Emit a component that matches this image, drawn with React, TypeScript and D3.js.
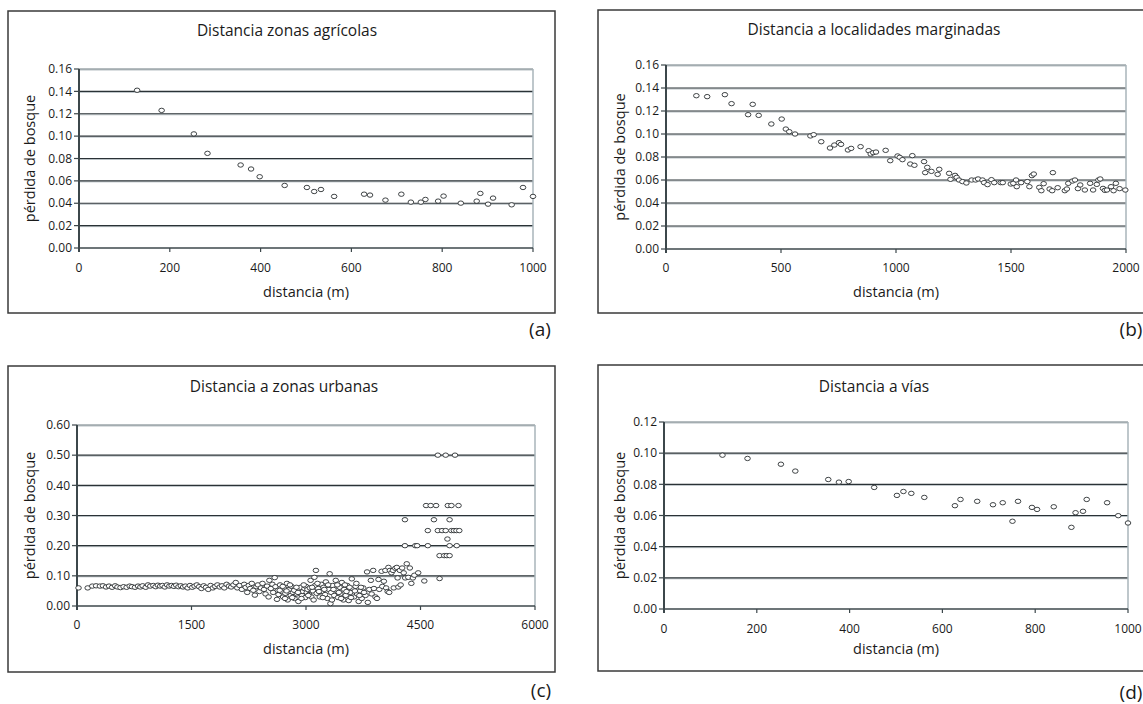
import * as d3 from 'd3';

// Panel (a): distancia a zonas agrícolas
const agricolasX = [128, 182, 253, 283, 356, 379, 398, 453, 502, 518, 533, 562, 628, 641, 675, 710, 731, 753, 763, 791, 803, 841, 876, 884, 901, 912, 953, 978, 1000];
const agricolasY = [0.141, 0.123, 0.102, 0.0846, 0.0742, 0.0706, 0.0637, 0.0559, 0.0541, 0.0505, 0.0523, 0.0461, 0.0481, 0.0473, 0.0428, 0.0481, 0.041, 0.041, 0.0434, 0.0419, 0.0464, 0.0401, 0.0419, 0.0488, 0.0392, 0.0446, 0.0386, 0.0541, 0.0461];

// Panel (b): distancia a localidades marginadas
const marginadas: [number, number][] = [
  [132, 0.1333], [179, 0.1325], [256, 0.1342], [285, 0.1264], [357, 0.1168], [377, 0.1258], [403, 0.1162],
  [458, 0.1087], [503, 0.113], [521, 0.1043], [536, 0.102], [561, 0.1], [628, 0.0983], [642, 0.0994],
  [675, 0.0933], [713, 0.0878], [732, 0.0904], [752, 0.0925], [761, 0.091], [791, 0.0861], [805, 0.0875],
  [846, 0.089], [881, 0.0855], [890, 0.0826], [901, 0.0838], [913, 0.0843], [955, 0.0858], [975, 0.0768],
  [1007, 0.0809], [1016, 0.0797], [1028, 0.0777], [1062, 0.0739], [1071, 0.0812], [1080, 0.0728],
  [1122, 0.076], [1127, 0.0664], [1136, 0.071], [1154, 0.0675], [1181, 0.0649], [1188, 0.0693],
  [1231, 0.0658], [1237, 0.0606], [1257, 0.064], [1264, 0.0623], [1274, 0.06], [1289, 0.0586],
  [1306, 0.0574], [1329, 0.06], [1346, 0.06], [1357, 0.0609], [1376, 0.06], [1383, 0.0577], [1398, 0.056],
  [1415, 0.0603], [1427, 0.0577], [1455, 0.0577], [1464, 0.0577], [1499, 0.0565], [1510, 0.0571],
  [1522, 0.06], [1525, 0.0542], [1544, 0.0577], [1571, 0.0586], [1580, 0.0542], [1591, 0.0638],
  [1599, 0.0652], [1623, 0.0536], [1632, 0.0507], [1642, 0.0568], [1668, 0.0522], [1679, 0.0507],
  [1682, 0.0664], [1703, 0.0533], [1734, 0.0507], [1743, 0.0522], [1749, 0.0571], [1767, 0.0591],
  [1778, 0.06], [1791, 0.0525], [1801, 0.0557], [1821, 0.0513], [1844, 0.0571], [1857, 0.0513],
  [1873, 0.0562], [1880, 0.06], [1888, 0.0609], [1900, 0.0527], [1908, 0.051], [1917, 0.0513],
  [1935, 0.0542], [1946, 0.0507], [1956, 0.0571], [1972, 0.0525], [1997, 0.0513],
];

// Panel (c): distancia a zonas urbanas
const urbanas: [number, number][] = [
  [20, 0.06], [140, 0.06], [200, 0.066], [250, 0.067], [300, 0.066], [340, 0.067], [380, 0.063], [420, 0.066],
  [460, 0.062], [500, 0.067], [530, 0.063], [570, 0.061], [610, 0.064], [650, 0.062], [690, 0.066], [720, 0.064],
  [760, 0.062], [800, 0.066], [830, 0.063], [860, 0.067], [900, 0.062], [930, 0.07], [960, 0.066], [1000, 0.068],
  [1030, 0.064], [1060, 0.069], [1090, 0.066], [1120, 0.068], [1150, 0.063], [1180, 0.07], [1210, 0.066],
  [1240, 0.068], [1270, 0.065], [1300, 0.069], [1330, 0.064], [1360, 0.067], [1390, 0.063], [1420, 0.066],
  [1450, 0.06], [1480, 0.068], [1510, 0.062], [1540, 0.066], [1570, 0.07], [1600, 0.064], [1630, 0.058],
  [1660, 0.067], [1690, 0.062], [1720, 0.055], [1750, 0.068], [1780, 0.06], [1810, 0.065], [1840, 0.07],
  [1870, 0.063], [1900, 0.067], [1930, 0.06], [1960, 0.072], [1990, 0.066],
  [2020, 0.063], [2050, 0.07], [2080, 0.078], [2100, 0.06], [2130, 0.068], [2160, 0.055], [2190, 0.072],
  [2210, 0.062], [2230, 0.045], [2250, 0.068], [2270, 0.058], [2290, 0.075], [2310, 0.052], [2330, 0.036],
  [2350, 0.064], [2370, 0.07], [2390, 0.048], [2410, 0.06], [2430, 0.075], [2450, 0.055], [2470, 0.04],
  [2490, 0.066], [2510, 0.03], [2520, 0.085], [2540, 0.058], [2560, 0.072], [2570, 0.045], [2590, 0.094],
  [2600, 0.064], [2620, 0.022], [2630, 0.052],
  [2640, 0.038], [2660, 0.07], [2680, 0.048], [2700, 0.03], [2710, 0.06], [2730, 0.042], [2750, 0.075],
  [2760, 0.02], [2780, 0.055], [2800, 0.035], [2810, 0.065], [2830, 0.045], [2850, 0.025], [2860, 0.058],
  [2880, 0.04], [2900, 0.015], [2910, 0.052], [2930, 0.062], [2950, 0.035], [2960, 0.048], [2980, 0.058],
  [2990, 0.028], [3000, 0.065], [3010, 0.045], [3020, 0.055], [3040, 0.038], [3050, 0.06], [3060, 0.085],
  [3070, 0.03], [3090, 0.05], [3100, 0.02], [3110, 0.095], [3120, 0.068], [3130, 0.118], [3140, 0.042],
  [3160, 0.058], [3180, 0.03], [3200, 0.072], [3210, 0.048], [3230, 0.062], [3250, 0.038], [3260, 0.08],
  [3280, 0.025], [3300, 0.055], [3310, 0.107], [3320, 0.008], [3330, 0.045], [3350, 0.068], [3370, 0.035],
  [3390, 0.085], [3400, 0.052], [3420, 0.028], [3440, 0.062], [3450, 0.04], [3470, 0.078], [3490, 0.02],
  [3500, 0.055], [3520, 0.035], [3540, 0.068], [3560, 0.018], [3580, 0.045], [3600, 0.09], [3610, 0.058],
  [3630, 0.03], [3650, 0.065], [3670, 0.04], [3690, 0.015], [3710, 0.05], [3730, 0.025], [3750, 0.06],
  [3780, 0.035], [3800, 0.113], [3810, 0.012], [3830, 0.055], [3850, 0.085], [3860, 0.04], [3880, 0.118],
  [3890, 0.058], [3910, 0.03], [3930, 0.025], [3950, 0.088], [3960, 0.055], [3990, 0.115], [4000, 0.065],
  [4020, 0.082], [4040, 0.118], [4050, 0.06], [4070, 0.048], [4080, 0.128], [4090, 0.045], [4100, 0.118],
  [4120, 0.11], [4140, 0.118], [4150, 0.06], [4170, 0.125], [4190, 0.128], [4200, 0.093], [4210, 0.063],
  [4230, 0.118], [4240, 0.07], [4260, 0.126], [4280, 0.11], [4300, 0.093], [4320, 0.14], [4340, 0.095],
  [4360, 0.126], [4380, 0.075], [4400, 0.093], [4420, 0.102], [4470, 0.11], [4550, 0.083], [4750, 0.091],
  [2655, 0.052], [2695, 0.065], [2725, 0.025], [2745, 0.05], [2790, 0.07], [2820, 0.028], [2845, 0.052],
  [2875, 0.062], [2895, 0.045], [2940, 0.025], [2970, 0.07], [3030, 0.035], [3080, 0.062], [3150, 0.075],
  [3170, 0.048], [3220, 0.028], [3240, 0.055], [3290, 0.07], [3340, 0.02], [3360, 0.055], [3410, 0.07],
  [3430, 0.045], [3460, 0.025], [3510, 0.07], [3530, 0.048], [3570, 0.062], [3590, 0.028], [3640, 0.05],
  [3660, 0.075], [3700, 0.035], [3720, 0.062], [3760, 0.045],
  [4296, 0.286], [4676, 0.286], [4881, 0.286],
  [4573, 0.333], [4634, 0.333], [4704, 0.333], [4858, 0.333], [4905, 0.333], [4998, 0.333],
  [4727, 0.5], [4830, 0.5], [4952, 0.5],
  [4596, 0.25], [4727, 0.25], [4783, 0.25], [4830, 0.25], [4905, 0.25], [4938, 0.25], [4971, 0.25], [5008, 0.25],
  [4853, 0.222],
  [4296, 0.2], [4432, 0.2], [4456, 0.2], [4596, 0.2], [4881, 0.2], [4975, 0.2],
  [4750, 0.167], [4811, 0.167], [4844, 0.167], [4881, 0.167],
];

// Panel (d): distancia a vías
const viasX = [126, 180, 252, 283, 354, 377, 398, 453, 502, 516, 533, 561, 627, 639, 675, 709, 730, 751, 763, 793, 804, 840, 878, 887, 903, 911, 955, 979, 1000];
const viasY = [0.0987, 0.0966, 0.0929, 0.0885, 0.0831, 0.0814, 0.0818, 0.078, 0.0729, 0.0754, 0.0742, 0.0716, 0.0663, 0.0703, 0.0691, 0.0669, 0.0682, 0.0563, 0.0691, 0.0652, 0.0639, 0.0656, 0.0524, 0.0618, 0.0627, 0.0703, 0.0682, 0.0599, 0.0552];

const ticks1000 = [0, 200, 400, 600, 800, 1000];
const ticks2000 = [0, 500, 1000, 1500, 2000];
const ticks6000 = [0, 1500, 3000, 4500, 6000];
const ticks016 = [0, 0.02, 0.04, 0.06, 0.08, 0.1, 0.12, 0.14, 0.16];
const ticks060 = [0, 0.1, 0.2, 0.3, 0.4, 0.5, 0.6];
const ticks012 = [0, 0.02, 0.04, 0.06, 0.08, 0.1, 0.12];

const FONT = '"Open Sans", "Noto Sans", sans-serif';

interface PanelProps {
  box: { x: number; y: number; w: number; h: number };
  plot: { x0: number; x1: number; y0: number; y1: number };
  title: string;
  titleX: number;
  titleY: number;
  xTicks: number[];
  yTicks: number[];
  xTickY: number;
  xLabelY: number;
  yLabelX: number;
  letter: string;
  letterX: number;
  letterY: number;
  points: [number, number][];
}

const Panel = (p: PanelProps) => {
  const x = d3.scaleLinear()
    .domain([p.xTicks[0], p.xTicks[p.xTicks.length - 1]])
    .range([p.plot.x0, p.plot.x1]);
  const y = d3.scaleLinear()
    .domain([p.yTicks[0], p.yTicks[p.yTicks.length - 1]])
    .range([p.plot.y1, p.plot.y0]);
  const yMid = (p.plot.y0 + p.plot.y1) / 2;

  return (
    <g fontFamily={FONT}>
      <rect x={p.box.x} y={p.box.y} width={p.box.w} height={p.box.h} fill="#fff" stroke="#3a3a3a" strokeWidth={1.5} />
      <text x={p.titleX} y={p.titleY} dy="0.35em" textAnchor="middle" fontSize={15.5} fill="#1a1a1a">{p.title}</text>

      {/* grid lines */}
      {p.yTicks.slice(1).map((t, i) => {
        const last = i === p.yTicks.length - 2;
        return (
          <g key={'g' + t}>
            <line x1={p.plot.x0} x2={p.plot.x1} y1={y(t) + 1} y2={y(t) + 1} stroke="#b8c0c4" strokeWidth={1} />
            <line x1={p.plot.x0} x2={p.plot.x1} y1={y(t)} y2={y(t)} stroke={last ? '#6c7a80' : '#2a3236'} strokeWidth={1.2} />
          </g>
        );
      })}
      <line x1={p.plot.x1} x2={p.plot.x1} y1={p.plot.y0} y2={p.plot.y1} stroke="#a9b4ba" strokeWidth={1.5} />

      {/* axes */}
      <line x1={p.plot.x0} x2={p.plot.x1} y1={p.plot.y1} y2={p.plot.y1} stroke="#3c474b" strokeWidth={1.5} />
      <line x1={p.plot.x0} x2={p.plot.x0} y1={p.plot.y0} y2={p.plot.y1 + 4} stroke="#3c474b" strokeWidth={2} />
      {p.yTicks.map(t => (
        <g key={'y' + t}>
          <line x1={p.plot.x0 - 5} x2={p.plot.x0} y1={y(t)} y2={y(t)} stroke="#3c474b" strokeWidth={1.2} />
          <text x={p.plot.x0 - 7} y={y(t)} dy="0.35em" textAnchor="end" fontSize={12} fill="#1a1a1a">{t.toFixed(2)}</text>
        </g>
      ))}
      {p.xTicks.map(t => (
        <g key={'x' + t}>
          <line x1={x(t)} x2={x(t)} y1={p.plot.y1} y2={p.plot.y1 + 4} stroke="#3c474b" strokeWidth={1.2} />
          <text x={x(t)} y={p.xTickY} dy="0.35em" textAnchor="middle" fontSize={12} fill="#1a1a1a">{t}</text>
        </g>
      ))}
      <text x={(p.plot.x0 + p.plot.x1) / 2} y={p.xLabelY} dy="0.35em" textAnchor="middle" fontSize={14.5} fill="#1a1a1a">distancia (m)</text>
      <text transform={`translate(${p.yLabelX},${yMid}) rotate(-90)`} dy="0.35em" textAnchor="middle" fontSize={14.5} fill="#1a1a1a">pérdida de bosque</text>

      {/* points */}
      {p.points.map((d, i) => (
        <ellipse key={i} cx={x(d[0])} cy={y(d[1])} rx={2.8} ry={2.2} fill="#fff" stroke="#2a2f31" strokeWidth={0.9} />
      ))}

      <text x={p.letterX} y={p.letterY} dy="0.35em" textAnchor="middle" fontSize={19} fill="#1a1a1a">{p.letter}</text>
    </g>
  );
};

const App = () => {
  const agricolas = agricolasX.map((v, i) => [v, agricolasY[i]] as [number, number]);
  const vias = viasX.map((v, i) => [v, viasY[i]] as [number, number]);

  return (
    <svg width={1143} height={704} style={{ position: 'absolute', left: 0, top: 0, background: '#fff' }}>
      <Panel
        box={{ x: 8, y: 11, w: 547, h: 302 }}
        plot={{ x0: 79, x1: 533, y0: 69, y1: 248 }}
        title="Distancia zonas agrícolas" titleX={287} titleY={31}
        xTicks={ticks1000} yTicks={ticks016}
        xTickY={268} xLabelY={292} yLabelX={30}
        letter="(a)" letterX={540} letterY={329}
        points={agricolas}
      />
      <Panel
        box={{ x: 598, y: 10, w: 560, h: 303 }}
        plot={{ x0: 666, x1: 1126, y0: 65, y1: 249 }}
        title="Distancia a localidades marginadas" titleX={874} titleY={30}
        xTicks={ticks2000} yTicks={ticks016}
        xTickY={268} xLabelY={292} yLabelX={620}
        letter="(b)" letterX={1131} letterY={329}
        points={marginadas}
      />
      <Panel
        box={{ x: 8, y: 366, w: 547, h: 306 }}
        plot={{ x0: 77, x1: 535, y0: 425, y1: 606 }}
        title="Distancia a zonas urbanas" titleX={284} titleY={387}
        xTicks={ticks6000} yTicks={ticks060}
        xTickY={625} xLabelY={649} yLabelX={30}
        letter="(c)" letterX={541} letterY={690}
        points={urbanas}
      />
      <Panel
        box={{ x: 598, y: 365, w: 560, h: 306 }}
        plot={{ x0: 664, x1: 1128, y0: 422, y1: 609 }}
        title="Distancia a vías" titleX={874} titleY={387}
        xTicks={ticks1000} yTicks={ticks012}
        xTickY={629} xLabelY={649} yLabelX={620}
        letter="(d)" letterX={1131} letterY={692}
        points={vias}
      />
    </svg>
  );
};

export default App;
